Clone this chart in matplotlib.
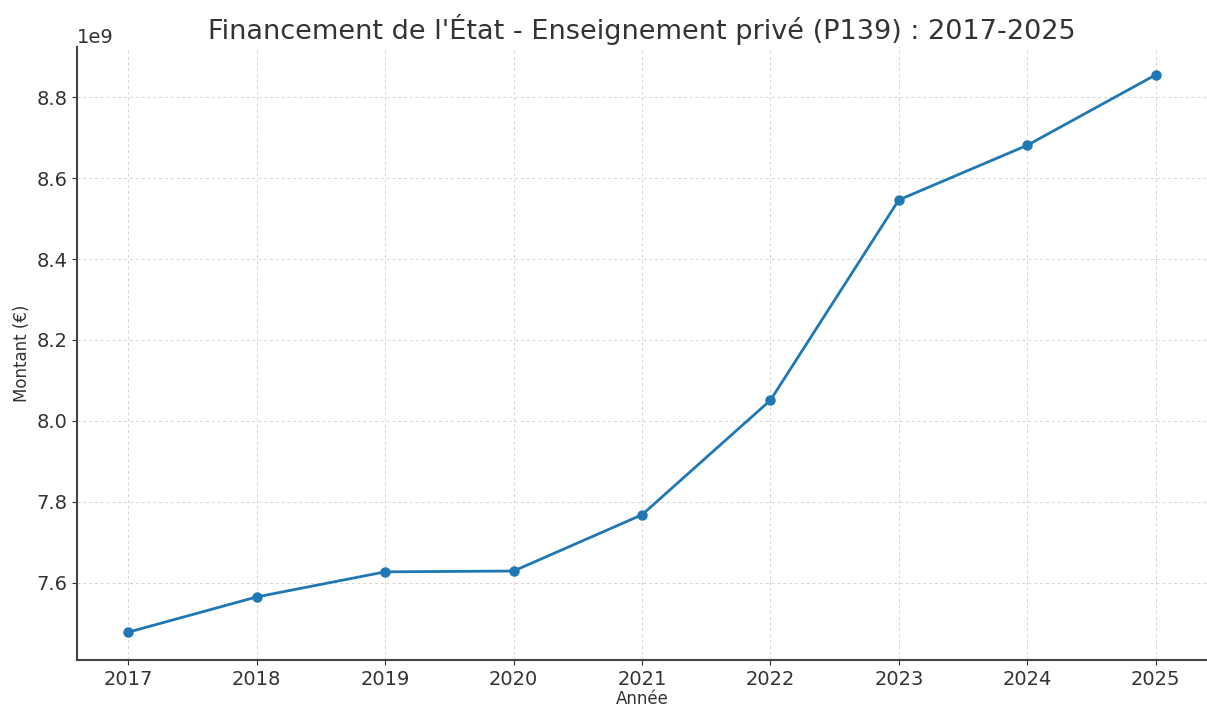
import matplotlib
matplotlib.use('Agg')
import matplotlib.pyplot as plt

# Données (montants en euros)
annees = [2017, 2018, 2019, 2020, 2021, 2022, 2023, 2024, 2025]
montants = [7.478e9, 7.565e9, 7.627e9, 7.629e9, 7.768e9, 8.051e9, 8.546e9, 8.681e9, 8.855e9]

fig = plt.figure(figsize=(12.07, 7.09), dpi=100)
ax = fig.add_axes([77 / 1207, 49 / 709, 1130 / 1207, 613 / 709])

ax.plot(annees, montants, marker='o', color='#1f77b4', linewidth=2, markersize=6.5)

ax.set_title("Financement de l'État - Enseignement privé (P139) : 2017-2025",
             fontsize=19.5, color='#333333', pad=6)
ax.set_xlabel('Année', fontsize=12, color='#333333', labelpad=1)
ax.set_ylabel('Montant (€)', fontsize=12, color='#333333')
ax.set_xticks(annees)
ax.tick_params(labelsize=14, colors='#333333')
ax.yaxis.get_offset_text().set_fontsize(14)
ax.yaxis.get_offset_text().set_color('#333333')

ax.grid(True, linestyle=(0, (3, 3)), color='#d4d4d4', linewidth=0.7)
for s in ['top', 'right']:
    ax.spines[s].set_visible(False)
for s in ['left', 'bottom']:
    ax.spines[s].set_color('#444444')
    ax.spines[s].set_linewidth(1.5)

fig.savefig('out.png', dpi=100)
